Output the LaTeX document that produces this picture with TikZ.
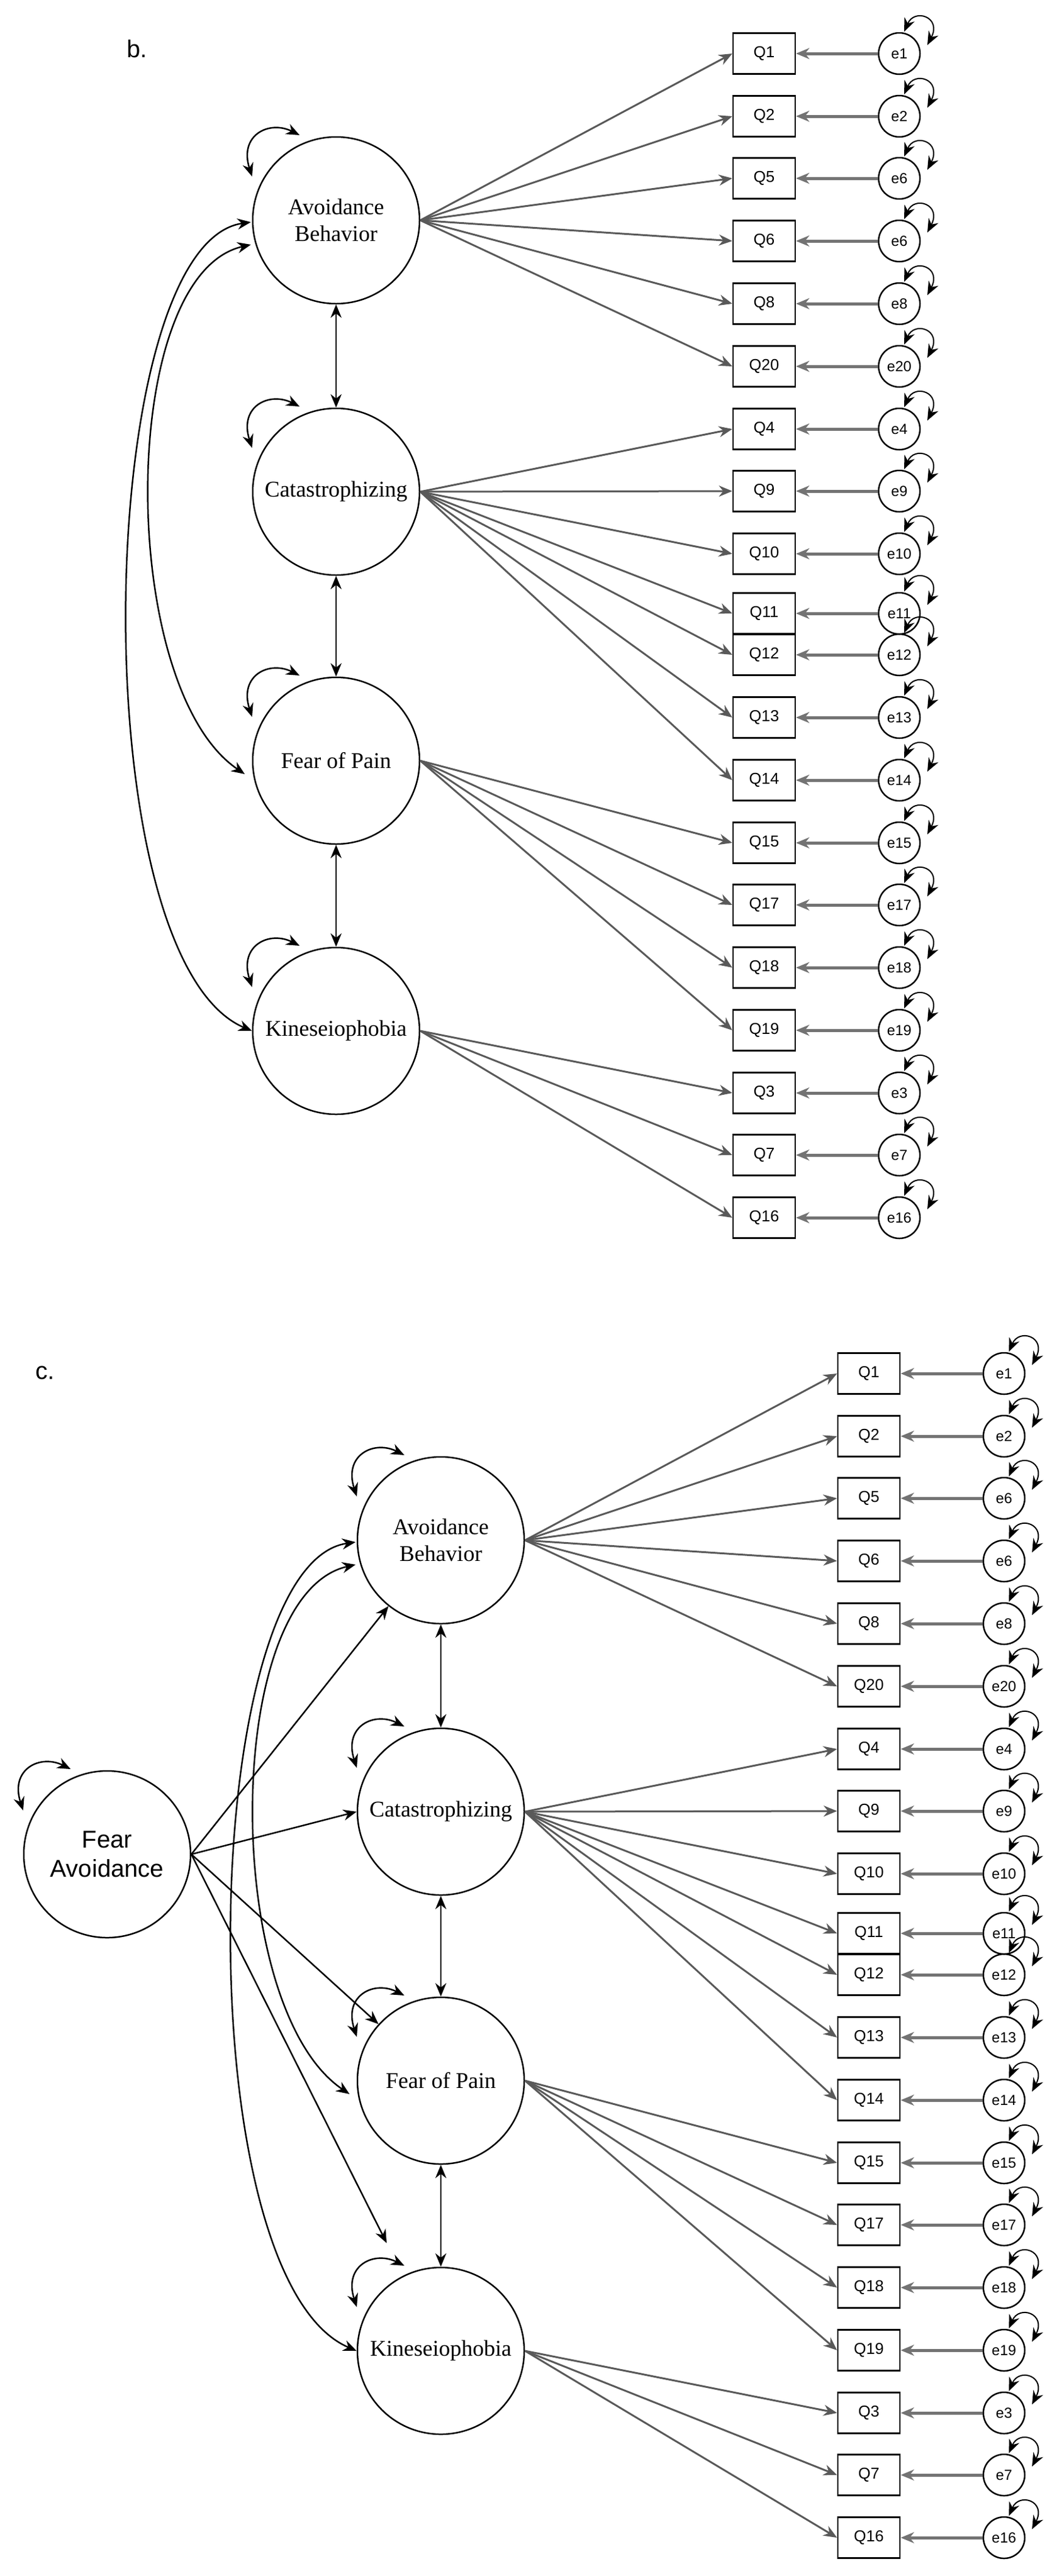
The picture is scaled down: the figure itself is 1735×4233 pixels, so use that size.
\documentclass[tikz,border=0pt]{standalone}
\usepackage{fontspec}
\setmainfont{Liberation Serif}
\newfontfamily\sfq{Liberation Sans}
\usetikzlibrary{arrows.meta,calc}
\tikzset{
  lat/.style={circle,draw,line width=2.5pt,minimum size=274pt,inner sep=0pt,align=center,font=\fontsize{37}{44}\selectfont},
  obs/.style={rectangle,draw,line width=2.5pt,minimum width=102pt,minimum height=67pt,inner sep=0pt,font=\sfq\fontsize{26}{30}\selectfont},
  err/.style={circle,draw,line width=2.5pt,minimum size=68pt,inner sep=0pt,font=\sfq\fontsize{24}{28}\selectfont},
  tip/.style={-{Stealth[length=22pt,width=18pt]}},
  dtip/.style={{Stealth[length=22pt,width=18pt]}-{Stealth[length=22pt,width=18pt]}},
  load/.style={tip,line width=3pt,draw=black!65},
  eload/.style={tip,line width=5pt,draw=black!55},
  cov/.style={dtip,line width=2.5pt},
  lbl/.style={font=\sfq\fontsize{40}{44}\selectfont}
}
\newcommand\mypanel[1]{%
  \node[lat] (#1AB) at (552,362) {Avoidance\\Behavior};
  \node[lat] (#1CA) at (552,808) {Catastrophizing};
  \node[lat] (#1FP) at (552,1250) {Fear of Pain};
  \node[lat] (#1KI) at (552,1694) {Kineseiophobia};
  \foreach \a/\b in {AB/CA,CA/FP,FP/KI}{\draw[cov] (#1\a) -- (#1\b);}
  \foreach \a in {AB,CA,FP,KI}{
    \draw[cov] ($(#1\a)+(-138,-72)$) .. controls ($(#1\a)+(-160,-140)$) and ($(#1\a)+(-110,-165)$) .. ($(#1\a)+(-60,-140)$);}
  \draw[cov] ($(#1AB)+(-140,3)$) .. controls ($(#1AB)+(-400,40)$) and ($(#1KI)+(-420,-120)$) .. (#1KI.west);
  \draw[cov] ($(#1AB)+(-140,40)$) .. controls ($(#1AB)+(-360,90)$) and ($(#1FP)+(-360,-120)$) .. ($(#1FP)+(-150,22)$);
  \foreach \n/\y/\e/\f in {Q1/88/e1/AB,Q2/191/e2/AB,Q5/293/e6/AB,Q6/396/e6/AB,Q8/499/e8/AB,Q20/602/e20/AB,
     Q4/705/e4/CA,Q9/807/e9/CA,Q10/910/e10/CA,Q11/1008/e11/CA,Q12/1076/e12/CA,Q13/1179/e13/CA,Q14/1282/e14/CA,
     Q15/1385/e15/FP,Q17/1487/e17/FP,Q18/1590/e18/FP,Q19/1693/e19/FP,
     Q3/1796/e3/KI,Q7/1898/e7/KI,Q16/2001/e16/KI}{
    \node[obs] (#1\n) at (1255,\y) {\n};
    \node[err] (#1e\n) at (1477,\y) {\e};
    \draw[load] (#1\f.east) -- (#1\n.west);
    \draw[eload] (#1e\n) -- (#1\n);
    \draw[cov,line width=2pt] ($(#1e\n)+(8,-36)$) .. controls ($(#1e\n)+(25,-75)$) and ($(#1e\n)+(70,-60)$) .. ($(#1e\n)+(46,-14)$);
  }
}
\begin{document}
\begin{tikzpicture}[x=1pt,y=-1pt]
\useasboundingbox (0,0) rectangle (1735,4233);
\node[lbl,anchor=west] (lb) at (205,80) {b.};
\mypanel{b}
\node[lbl,anchor=west] (lc) at (55,2256) {c.};
\begin{scope}[shift={(172,2169)}]
\mypanel{c}
\end{scope}
\node[lat,font=\sfq\fontsize{40}{48}\selectfont] (FA) at (176,3047) {Fear\\Avoidance};
\draw[cov] ($(FA)+(-138,-72)$) .. controls ($(FA)+(-160,-140)$) and ($(FA)+(-110,-165)$) .. ($(FA)+(-60,-140)$);
\draw[tip,line width=2.5pt] (FA.east) -- (cAB);
\draw[tip,line width=2.5pt] (FA.east) -- (cCA.west);
\draw[tip,line width=2.5pt] (FA.east) -- (cFP);
\draw[tip,line width=2.5pt,shorten >=60pt] (FA.east) -- (cKI);
\end{tikzpicture}
\end{document}
